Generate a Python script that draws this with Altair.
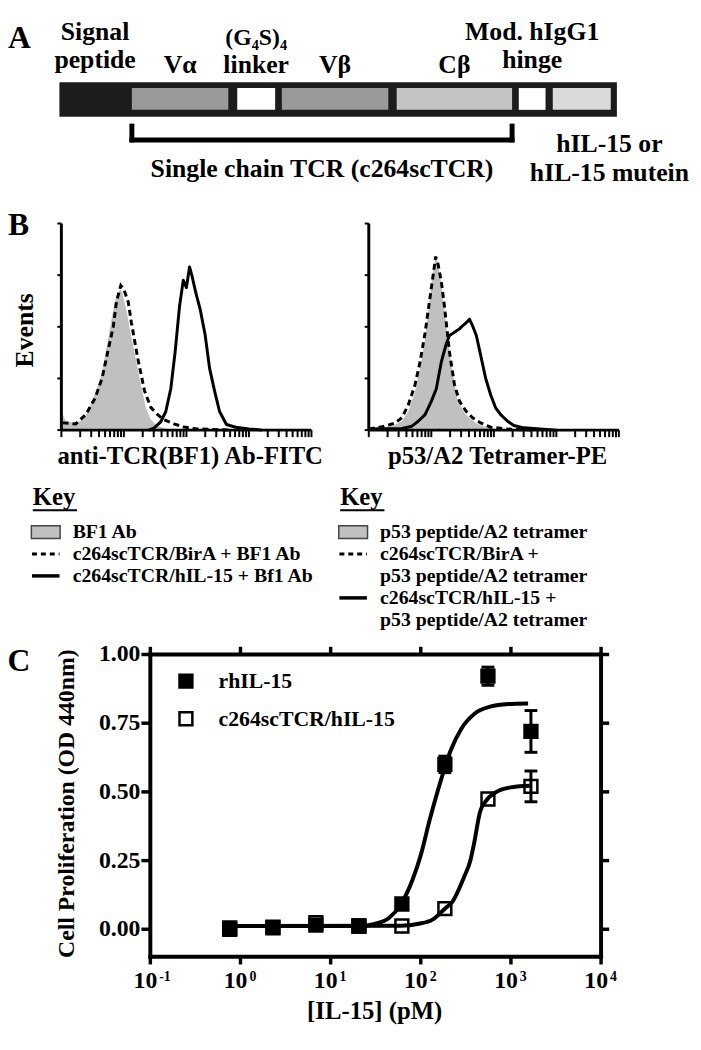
import altair as alt
import numpy as np
import pandas as pd

FONT = "Liberation Serif"
ONE = pd.DataFrame({"k": [0]})

# ---------------- Panel A : construct map ----------------
dom_names = ["Signal peptide", "Vα", "(G4S)4 linker", "Vβ", "Cβ", "Mod. hIgG1 hinge", "hIL-15"]
dom_start = [0.0, 13.0, 31.9, 39.9, 60.5, 82.4, 88.5]
dom_end = [12.8, 30.3, 38.7, 59.0, 81.2, 87.2, 98.9]
construct_end = 100.0
label_top = ["Signal", "Mod. hIgG1"]
label_top_dom = ["Signal peptide", "Mod. hIgG1 hinge"]
label_mid = ["peptide", "hinge"]
label_mid_dom = ["Signal peptide", "Mod. hIgG1 hinge"]
label_low = ["Vα", "linker", "Vβ", "Cβ"]
label_low_dom = ["Vα", "(G4S)4 linker", "Vβ", "Cβ"]
linker_label = ["(G₄S)₄"]
sctcr_label = ["Single chain TCR (c264scTCR)"]
fusion_label_1 = ["hIL-15 or"]
fusion_label_2 = ["hIL-15 mutein"]

# ---------------- Panel B : histograms (x = log10 fluorescence, y = events %) ----------------
bf1_dec = [0.00, 0.07, 0.23, 0.34, 0.41, 0.49, 0.57, 0.65, 0.73, 0.81, 0.88, 0.94, 0.97, 1.04, 1.12, 1.20, 1.28, 1.35, 1.43, 1.54, 1.69, 1.90]
bf1_ev = [9.0, 4.5, 3.5, 5.0, 8.0, 14.0, 20.0, 28.0, 41.0, 55.0, 65.0, 68.0, 67.0, 58.0, 45.0, 33.0, 21.0, 11.0, 5.0, 2.0, 0.5, 0.0]
birA_bf1_dec = [0.02, 0.23, 0.39, 0.54, 0.65, 0.75, 0.83, 0.88, 0.95, 1.00, 1.07, 1.12, 1.22, 1.33, 1.43, 1.54, 1.64, 1.80, 1.96, 2.16, 2.69]
birA_bf1_ev = [3.5, 3.0, 7.5, 15.5, 25.0, 39.0, 50.0, 62.0, 70.0, 68.0, 62.0, 52.0, 35.0, 19.0, 11.0, 7.5, 5.0, 3.0, 1.5, 0.6, 0.0]
il15_bf1_dec = [1.40, 1.48, 1.59, 1.67, 1.75, 1.82, 1.89, 1.95, 2.00, 2.05, 2.09, 2.15, 2.22, 2.30, 2.37, 2.45, 2.53, 2.64, 2.79, 3.00, 3.21]
il15_bf1_ev = [0.0, 1.0, 4.0, 9.0, 20.0, 38.0, 60.0, 72.5, 69.0, 79.0, 74.5, 66.5, 58.5, 46.0, 30.0, 19.0, 9.0, 2.7, 1.4, 0.6, 0.0]

tet_dec = [0.00, 0.26, 0.42, 0.53, 0.63, 0.74, 0.82, 0.90, 0.95, 1.00, 1.06, 1.08, 1.12, 1.16, 1.21, 1.27, 1.35, 1.42, 1.53, 1.64, 1.74, 1.90, 2.11]
tet_ev = [0.8, 1.4, 2.7, 4.3, 9.0, 18.7, 30.0, 44.0, 57.0, 71.0, 82.5, 83.0, 78.0, 71.0, 58.5, 42.6, 26.6, 14.7, 8.3, 5.1, 3.0, 1.1, 0.0]
birA_tet_dec = [0.00, 0.26, 0.42, 0.53, 0.63, 0.74, 0.82, 0.90, 0.96, 1.02, 1.07, 1.11, 1.16, 1.21, 1.29, 1.37, 1.45, 1.56, 1.66, 1.79, 1.95, 2.22, 2.60]
birA_tet_ev = [0.5, 1.9, 3.5, 6.0, 12.0, 22.0, 33.0, 47.0, 60.0, 73.0, 84.0, 80.0, 72.0, 60.0, 38.0, 22.0, 14.0, 9.0, 6.0, 3.5, 1.4, 0.5, 0.0]
il15_tet_dec = [0.00, 0.53, 0.69, 0.79, 0.90, 1.00, 1.08, 1.16, 1.24, 1.29, 1.37, 1.45, 1.50, 1.56, 1.61, 1.66, 1.72, 1.79, 1.87, 1.95, 2.03, 2.11, 2.22, 2.32, 2.48, 2.74, 3.00]
il15_tet_ev = [0.5, 0.8, 1.9, 4.3, 7.5, 13.9, 20.0, 33.0, 41.8, 45.8, 47.4, 49.0, 50.5, 52.0, 53.7, 50.5, 45.8, 36.2, 25.0, 17.0, 10.7, 7.5, 4.3, 2.2, 1.1, 0.5, 0.0]

hist_decades = [0, 1, 2, 3, 4]
hist_minor_mult = [2, 3, 4, 5, 6, 7, 8, 9]
hist_y_ticks = [0, 25, 50, 75, 100]

key_left = ["BF1 Ab", "c264scTCR/BirA + BF1 Ab", "c264scTCR/hIL-15 + Bf1 Ab"]
key_right = ["p53 peptide/A2 tetramer", "c264scTCR/BirA +", "p53 peptide/A2 tetramer",
             "c264scTCR/hIL-15 +", "p53 peptide/A2 tetramer"]

# ---------------- Panel C : proliferation ----------------
series_names = ["rhIL-15", "c264scTCR/hIL-15"]
conc_pm = [0.76, 2.29, 6.86, 20.6, 61.7, 185, 556, 1667]
rh_od = [0.000, 0.005, 0.015, 0.012, 0.092, 0.600, 0.921, 0.720]
rh_sem = [0, 0, 0, 0, 0, 0.030, 0.033, 0.076]
sc_od = [0.005, 0.008, 0.024, 0.012, 0.012, 0.075, 0.474, 0.520]
sc_sem = [0, 0, 0, 0, 0, 0, 0, 0.056]
rh_fit_conc = [0.76, 20.6, 31, 44, 60, 81, 100, 126, 170, 214, 282, 398, 589, 933, 1550]
rh_fit_od = [0.012, 0.012, 0.02, 0.04, 0.09, 0.18, 0.27, 0.40, 0.55, 0.65, 0.73, 0.785, 0.81, 0.82, 0.822]
sc_fit_conc = [0.76, 60, 95, 135, 185, 224, 302, 355, 389, 457, 550, 741, 1023, 1620]
sc_fit_od = [0.012, 0.013, 0.02, 0.035, 0.075, 0.10, 0.19, 0.25, 0.31, 0.43, 0.474, 0.505, 0.517, 0.522]
x_tick_vals = [0.1, 1, 10, 100, 1000, 10000]
x_tick_exp = ["-1", "0", "1", "2", "3", "4"]
y_tick_vals = [0.0, 0.25, 0.5, 0.75, 1.0]


def txt(size, **kw):
    base = dict(font=FONT, fontWeight="bold", fontSize=size, color="black")
    base.update(kw)
    return base


# ======================= Panel A =======================
dom_df = pd.DataFrame({"domain": dom_names, "start": dom_start, "end": dom_end})
dom_df["center"] = (dom_df["start"] + dom_df["end"]) / 2
center = dict(zip(dom_df["domain"], dom_df["center"]))
dom_colors = ["#1c1c1c", "#9a9a9a", "#ffffff", "#9a9a9a", "#c4c4c4", "#ffffff", "#dadada"]

sxA = alt.Scale(domain=[0, 100], range=[52, 616], nice=False, zero=False)
syA = alt.Scale(domain=[0, 1], range=[104, 69], nice=False, zero=False)


def XA(v):
    return alt.XDatum(v, type="quantitative", scale=sxA, axis=None)


def YA(v):
    return alt.YDatum(v, type="quantitative", scale=syA, axis=None)


def a_text(labels, xs, v, size=26, dx=0, align="center"):
    df = pd.DataFrame({"label": labels, "cx": xs})
    return alt.Chart(df).mark_text(**txt(size, baseline="alphabetic", align=align, dx=dx)).encode(
        x=alt.X("cx:Q", scale=sxA, axis=None), y=YA(v), text="label:N")


a_bar = alt.Chart(ONE).mark_rect(color="#1c1c1c").encode(
    x=XA(dom_start[0]), x2=alt.X2Datum(construct_end), y=YA(0), y2=alt.Y2Datum(1))
a_ins = alt.Chart(dom_df.iloc[1:]).mark_rect().encode(
    x=alt.X("start:Q", scale=sxA, axis=None), x2="end:Q",
    y=YA(0.2), y2=alt.Y2Datum(0.83),
    fill=alt.Fill("domain:N", scale=alt.Scale(domain=dom_names, range=dom_colors), legend=None))
br_left, br_right = dom_start[1], dom_end[4]
a_br_v = alt.Chart(pd.DataFrame({"x": [br_left, br_right]})).mark_rule(
    color="black", strokeWidth=5, strokeCap="square").encode(
    x=alt.X("x:Q", scale=sxA, axis=None), y=YA(-0.27), y2=alt.Y2Datum(-0.67))
a_br_h = alt.Chart(ONE).mark_rule(color="black", strokeWidth=5, strokeCap="square").encode(
    x=XA(br_left), x2=alt.X2Datum(br_right), y=YA(-0.67))

panelA = alt.layer(
    a_bar, a_ins, a_br_v, a_br_h,
    a_text(["A"], [-9.22], 2.0, size=32, align="left"),
    a_text(label_top, [center[d] for d in label_top_dom], 2.23),
    a_text(linker_label, [center["(G4S)4 linker"]], 2.07, size=24),
    a_text(label_mid, [center[d] for d in label_mid_dom], 1.40),
    a_text(label_low, [center[d] for d in label_low_dom], 1.257),
    a_text(sctcr_label, [(br_left + br_right) / 2], -1.74),
    a_text(fusion_label_1, [center["hIL-15"]], -1.03, dx=28),
    a_text(fusion_label_2, [center["hIL-15"]], -1.86, dx=28),
)

# ======================= Panel B =======================
syB = alt.Scale(domain=[0, 100], range=[421, 212], nice=False, zero=False)
tick_pos = [d + np.log10(m) for d in hist_decades[:-1] for m in hist_minor_mult] + hist_decades


def YB(v):
    return alt.YDatum(v, type="quantitative", scale=syB, axis=None)


def hist_panel(sx, gx, gy, dx_, dy_, sx_, sy_, xlabel, extra=None):
    def XB(v):
        return alt.XDatum(v, type="quantitative", scale=sx, axis=None)

    enc = lambda: dict(x=alt.X("x:Q", scale=sx, axis=None), y=alt.Y("y:Q", scale=syB, axis=None, stack=None))
    gray = alt.Chart(pd.DataFrame({"x": gx, "y": gy})).mark_area(color="#c0c0c0", opacity=1).encode(**enc())
    dash = alt.Chart(pd.DataFrame({"x": dx_, "y": dy_})).mark_line(
        color="black", strokeWidth=3, strokeDash=[6, 4]).encode(**enc())
    solid = alt.Chart(pd.DataFrame({"x": sx_, "y": sy_})).mark_line(
        color="black", strokeWidth=3, strokeJoin="round").encode(**enc())
    yaxis = alt.Chart(ONE).mark_rule(color="black", strokeWidth=3).encode(x=XB(0), y=YB(0), y2=alt.Y2Datum(100))
    xaxis = alt.Chart(ONE).mark_rule(color="black", strokeWidth=3).encode(x=XB(0), x2=alt.X2Datum(4), y=YB(0))
    xt = alt.Chart(pd.DataFrame({"t": tick_pos})).mark_rule(color="black", strokeWidth=2).encode(
        x=alt.X("t:Q", scale=sx, axis=None), y=YB(0), y2=alt.Y2Datum(-3.4))
    yt = alt.Chart(pd.DataFrame({"v": hist_y_ticks})).mark_rule(color="black", strokeWidth=2).encode(
        x=XB(0), x2=alt.X2Datum(-0.065), y=alt.Y("v:Q", scale=syB, axis=None))
    title = alt.Chart(pd.DataFrame({"t": [xlabel]})).mark_text(**txt(25, baseline="alphabetic")).encode(
        x=XB(2.06), y=YB(-16.3), text="t:N")
    layers = [gray, dash, solid, yaxis, xaxis, xt, yt, title]
    if extra:
        layers += extra(XB)
    return alt.layer(*layers)


sxL = alt.Scale(domain=[0, 4], range=[54, 307], nice=False, zero=False)
sxR = alt.Scale(domain=[0, 4], range=[365, 618], nice=False, zero=False)


def left_extra(XB):
    b = alt.Chart(pd.DataFrame({"t": ["B"]})).mark_text(**txt(32, baseline="alphabetic", align="left")).encode(
        x=XB(-0.854), y=YB(94.3), text="t:N")
    ev = alt.Chart(pd.DataFrame({"t": ["Events"]})).mark_text(**txt(26, baseline="middle", angle=270)).encode(
        x=XB(-0.585), y=YB(48.3), text="t:N")
    return [b, ev]


histL = hist_panel(sxL, bf1_dec, bf1_ev, birA_bf1_dec, birA_bf1_ev, il15_bf1_dec, il15_bf1_ev,
                   "anti-TCR(BF1) Ab-FITC", left_extra)
histR = hist_panel(sxR, tet_dec, tet_ev, birA_tet_dec, birA_tet_ev, il15_tet_dec, il15_tet_ev,
                   "p53/A2 Tetramer-PE")

# ---- keys ----
syK = alt.Scale(domain=[0, 4], range=[524, 613], nice=False, zero=False)


def key_panel(sx, labels, solid_row):
    def XK(v):
        return alt.XDatum(v, type="quantitative", scale=sx, axis=None)

    def YK(v):
        return alt.YDatum(v, type="quantitative", scale=syK, axis=None)

    head = alt.Chart(pd.DataFrame({"t": ["Key"]})).mark_text(**txt(25, baseline="alphabetic", align="left")).encode(
        x=XK(-0.458), y=YK(-1.21), text="t:N")
    under = alt.Chart(ONE).mark_rule(color="black", strokeWidth=2).encode(
        x=XK(-0.458), x2=alt.X2Datum(0.25), y=YK(-0.99))
    box = alt.Chart(ONE).mark_rect(fill="#c0c0c0", stroke="#444444", strokeWidth=1.5).encode(
        x=XK(-0.48), x2=alt.X2Datum(-0.02), y=YK(-0.28), y2=alt.Y2Datum(0.30))
    dash = alt.Chart(ONE).mark_rule(color="black", strokeWidth=3, strokeDash=[5, 4]).encode(
        x=XK(-0.47), x2=alt.X2Datum(-0.03), y=YK(1))
    solid = alt.Chart(ONE).mark_rule(color="black", strokeWidth=3.5).encode(
        x=XK(-0.47), x2=alt.X2Datum(-0.03), y=YK(solid_row))
    lab = alt.Chart(pd.DataFrame({"t": labels, "r": list(range(len(labels)))})).mark_text(
        **txt(20, baseline="middle", align="left")).encode(
        x=XK(0.18), y=alt.Y("r:Q", scale=syK, axis=None), text="t:N")
    return alt.layer(head, under, box, dash, solid, lab)


keyL = key_panel(sxL, key_left, 2)
keyR = key_panel(sxR, key_right, 3)

# ======================= Panel C =======================
sxC = alt.Scale(type="log", domain=[0.1, 10000], range=[144, 600], nice=False)
syC = alt.Scale(domain=[-0.1, 1.0], range=[953.8, 648], nice=False, zero=False)


def XC(v):
    return alt.XDatum(v, type="quantitative", scale=sxC, axis=None)


def YC(v):
    return alt.YDatum(v, type="quantitative", scale=syC, axis=None)


def xC(f):
    return alt.X(f, type="quantitative", scale=sxC, axis=None)


def yC(f):
    return alt.Y(f, type="quantitative", scale=syC, axis=None)


fit_df = pd.concat([
    pd.DataFrame({"conc": rh_fit_conc, "od": rh_fit_od, "series": series_names[0]}),
    pd.DataFrame({"conc": sc_fit_conc, "od": sc_fit_od, "series": series_names[1]}),
])
pts_df = pd.concat([
    pd.DataFrame({"conc": conc_pm, "od": sc_od, "sem": sc_sem, "series": series_names[1]}),
    pd.DataFrame({"conc": conc_pm, "od": rh_od, "sem": rh_sem, "series": series_names[0]}),
])
pts_df["lo"] = pts_df["od"] - pts_df["sem"]
pts_df["hi"] = pts_df["od"] + pts_df["sem"]
err_df = pts_df[pts_df["sem"] > 0]

c_fit = alt.Chart(fit_df).mark_line(color="black", strokeWidth=4, interpolate="monotone").encode(
    x=xC("conc"), y=yC("od"), detail="series:N")
c_err = alt.Chart(err_df).mark_rule(color="black", strokeWidth=3).encode(x=xC("conc"), y=yC("lo"), y2="hi:Q")
c_cap_lo = alt.Chart(err_df).mark_tick(color="black", orient="horizontal", size=13, thickness=3, opacity=1).encode(
    x=xC("conc"), y=yC("lo"))
c_cap_hi = alt.Chart(err_df).mark_tick(color="black", orient="horizontal", size=13, thickness=3, opacity=1).encode(
    x=xC("conc"), y=yC("hi"))
c_pts = alt.Chart(pts_df).mark_point(shape="square", size=169, filled=True, stroke="black",
                                     strokeWidth=2.5, opacity=1).encode(
    x=xC("conc"), y=yC("od"),
    fill=alt.Fill("series:N", scale=alt.Scale(domain=series_names, range=["black", "transparent"]),
                  legend=alt.Legend(orient="none", legendX=169, legendY=664, title=None,
                                    symbolType="square", symbolSize=169, symbolStrokeColor="black",
                                    symbolStrokeWidth=2.5, symbolOpacity=1, labelFont=FONT,
                                    labelFontWeight="bold", labelFontSize=22, labelColor="black",
                                    labelOffset=22, rowPadding=14, padding=0, labelLimit=400)))

rule = dict(color="black", strokeWidth=4, strokeCap="square")
c_frame = [
    alt.Chart(ONE).mark_rule(**rule).encode(x=XC(0.1), x2=alt.X2Datum(10000), y=YC(1.0)),
    alt.Chart(ONE).mark_rule(**rule).encode(x=XC(0.1), x2=alt.X2Datum(10000), y=YC(-0.1)),
    alt.Chart(ONE).mark_rule(**rule).encode(x=XC(0.1), y=YC(-0.1), y2=alt.Y2Datum(1.0)),
    alt.Chart(ONE).mark_rule(**rule).encode(x=XC(10000), y=YC(-0.1), y2=alt.Y2Datum(1.0)),
]
xt_df = pd.DataFrame({"v": x_tick_vals, "exp": x_tick_exp, "base": ["10"] * len(x_tick_vals)})
yt_df = pd.DataFrame({"v": y_tick_vals})
tk = dict(color="black", strokeWidth=3.5)
c_ticks = [
    alt.Chart(xt_df).mark_rule(**tk).encode(x=xC("v"), y=YC(-0.1), y2=alt.Y2Datum(-0.128)),
    alt.Chart(xt_df).mark_rule(**tk).encode(x=xC("v"), y=YC(1.0), y2=alt.Y2Datum(1.028)),
    alt.Chart(yt_df).mark_rule(**tk).encode(x=XC(0.1), x2=alt.X2Datum(0.0796), y=yC("v")),
    alt.Chart(yt_df).mark_rule(**tk).encode(x=XC(10000), x2=alt.X2Datum(12300), y=yC("v")),
]
c_labels = [
    alt.Chart(yt_df).mark_text(**txt(24, align="right", baseline="middle", dx=-1)).encode(
        x=XC(0.0796), y=yC("v"), text=alt.Text("v:Q", format=".2f")),
    alt.Chart(xt_df).mark_text(**txt(24, align="right", baseline="alphabetic", dx=7)).encode(
        x=xC("v"), y=YC(-0.215), text="base:N"),
    alt.Chart(xt_df).mark_text(**txt(14, align="left", baseline="alphabetic", dx=9)).encode(
        x=xC("v"), y=YC(-0.19), text="exp:N"),
    alt.Chart(pd.DataFrame({"t": ["[IL-15] (pM)"]})).mark_text(**txt(25, baseline="alphabetic")).encode(
        x=XC(30.8), y=YC(-0.327), text="t:N"),
    alt.Chart(pd.DataFrame({"t": ["Cell Proliferation (OD 440nm)"]})).mark_text(
        **txt(24, baseline="middle", angle=270)).encode(x=XC(0.0119), y=YC(0.457), text="t:N"),
    alt.Chart(pd.DataFrame({"t": ["C"]})).mark_text(**txt(32, baseline="alphabetic", align="left")).encode(
        x=XC(0.0026), y=YC(0.939), text="t:N"),
]
panelC = alt.layer(c_fit, c_err, c_cap_lo, c_cap_hi, c_pts, *c_frame, *c_ticks, *c_labels)

chart = alt.layer(panelA, histL, histR, keyL, keyR, panelC).resolve_scale(
    x="independent", y="independent", fill="independent"
).properties(
    width=693, height=1034, padding=0, autosize=alt.AutoSizeParams(type="none")
).configure_view(stroke=None)

chart.save("out.html", embed_options={"renderer": "svg", "actions": False})
